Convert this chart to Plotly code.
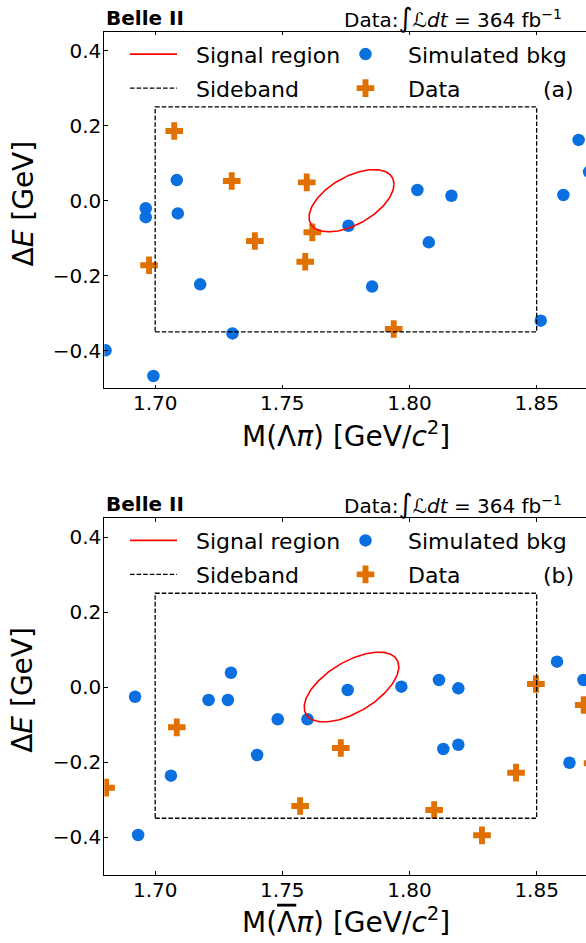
import numpy as np
import plotly.graph_objects as go

W, H = 586, 943
FONT = "DejaVu Sans"
BLUE = "#0a6fdf"
ORANGE = "#e07000"

# ---------------- data ----------------
# Panel (a): M(Lambda pi)
bkg_a_x = [1.6963, 1.6963, 1.7085, 1.7089, 1.7177, 1.7304, 1.6805, 1.6993, 1.7760,
           1.8031, 1.8165, 1.8076, 1.7853, 1.8516, 1.8605, 1.8665, 1.8706]
bkg_a_y = [-0.020, -0.044, 0.055, -0.034, -0.223, -0.354, -0.399, -0.4675, -0.0667,
           0.0285, 0.0133, -0.111, -0.229, -0.320, 0.0152, 0.162, 0.077]
data_a_x = [1.7075, 1.7301, 1.7596, 1.7392, 1.6976, 1.7618, 1.7590, 1.7938]
data_a_y = [0.186, 0.0525, 0.049, -0.1075, -0.172, -0.0843, -0.1627, -0.342]

# Panel (b): M(anti-Lambda pi)
bkg_b_x = [1.6921, 1.7210, 1.7286, 1.7298, 1.7482, 1.7401, 1.7062, 1.6933, 1.7599,
           1.7757, 1.7968, 1.8116, 1.8192, 1.8133, 1.8192, 1.8629, 1.8580, 1.8684]
bkg_b_y = [-0.026, -0.0347, -0.0347, 0.038, -0.086, -0.1813, -0.2365, -0.3947, -0.086,
           -0.008, 0.0008, 0.0187, -0.0035, -0.1653, -0.1539, -0.2019, 0.0675, 0.0187]
data_b_x = [1.6807, 1.7085, 1.7570, 1.7730, 1.8097, 1.8285, 1.8419, 1.8497, 1.8685, 1.8720]
data_b_y = [-0.2685, -0.1075, -0.3173, -0.1627, -0.328, -0.3955, -0.2285, 0.008, -0.048, -0.2035]

# Sideband box (same in both panels)
sideband_x = [1.70, 1.85]
sideband_y = [-0.35, 0.25]

# Signal region ellipses: centre x, centre y, half-width x, half-height y, correlation
signal_a = dict(cx=1.7772, cy=0.0, sx=0.0167, sy=0.083, rho=0.53)
signal_b = dict(cx=1.7772, cy=0.0, sx=0.0186, sy=0.093, rho=0.58)

x_ticks = [1.70, 1.75, 1.80, 1.85]
y_ticks = [-0.4, -0.2, 0.0, 0.2, 0.4]
x_range = [1.68, 1.8694]
y_range = [-0.5, 0.45]


def ellipse(p, n=200):
    t = np.linspace(0, 2 * np.pi, n)
    x = p["cx"] + p["sx"] * np.cos(t)
    y = p["cy"] + p["sy"] * (p["rho"] * np.cos(t) + np.sqrt(1 - p["rho"] ** 2) * np.sin(t))
    return x, y


def box(xs, ys):
    return ([xs[0], xs[1], xs[1], xs[0], xs[0]], [ys[0], ys[0], ys[1], ys[1], ys[0]])


def fx(p):
    return p / W


def fy(p):
    return 1 - p / H


fig = go.Figure()

panels = [
    dict(xa="x", ya="y", bx=bkg_a_x, by=bkg_a_y, dx=data_a_x, dy=data_a_y, sig=signal_a,
         legs=["legend", "legend2", "legend3", "legend4"]),
    dict(xa="x2", ya="y2", bx=bkg_b_x, by=bkg_b_y, dx=data_b_x, dy=data_b_y, sig=signal_b,
         legs=["legend5", "legend6", "legend7", "legend8"]),
]

PAD = "\u00a0\u00a0"
for p in panels:
    fig.add_trace(go.Scatter(x=p["bx"], y=p["by"], mode="markers", xaxis=p["xa"], yaxis=p["ya"],
                             marker=dict(symbol="circle", size=12.5, color=BLUE, line=dict(width=0)),
                             name=PAD + "Simulated bkg", legend=p["legs"][2], showlegend=True))
    fig.add_trace(go.Scatter(x=p["dx"], y=p["dy"], mode="markers", xaxis=p["xa"], yaxis=p["ya"],
                             marker=dict(symbol="cross", size=14.7, color=ORANGE, line=dict(width=0)),
                             name=PAD + "Data", legend=p["legs"][3], showlegend=True))
    bx, by = box(sideband_x, sideband_y)
    fig.add_trace(go.Scatter(x=bx, y=by, mode="lines", xaxis=p["xa"], yaxis=p["ya"],
                             line=dict(color="black", width=1.3, dash="4.6px,2px"),
                             name=PAD + "Sideband", legend=p["legs"][1], showlegend=True))
    ex, ey = ellipse(p["sig"])
    fig.add_trace(go.Scatter(x=ex, y=ey, mode="lines", xaxis=p["xa"], yaxis=p["ya"],
                             line=dict(color="red", width=1.6),
                             name=PAD + "Signal region", legend=p["legs"][0], showlegend=True))

axis_common = dict(showgrid=False, zeroline=False, ticks="inside", ticklen=3.5, tickwidth=0.8,
                   tickcolor="black", tickfont=dict(family=FONT, size=20, color="black"))

# pixel geometry
left_px = 104.3
dom_x = [fx(left_px), 1.0]
dom_ya = [fy(388.2), fy(31.95)]
dom_yb = [fy(874.5), fy(518.25)]

layout = dict(
    width=W, height=H, margin=dict(l=0, r=0, t=0, b=0),
    paper_bgcolor="white", plot_bgcolor="white",
    font=dict(family=FONT, color="black"),
    xaxis=dict(domain=dom_x, range=x_range, anchor="y", tickvals=x_ticks, tickformat=".2f",
               showline=True, linecolor="black", linewidth=1, mirror="ticks",
               ticklabelstandoff=-3, **axis_common),
    yaxis=dict(domain=dom_ya, range=y_range, anchor="x", tickvals=y_ticks, tickformat=".1f",
               showline=True, linecolor="black", linewidth=1, ticklabelstandoff=-2, **axis_common),
    xaxis2=dict(domain=dom_x, range=x_range, anchor="y2", tickvals=x_ticks, tickformat=".2f",
                showline=True, linecolor="black", linewidth=1, mirror="ticks",
                ticklabelstandoff=-3, **axis_common),
    yaxis2=dict(domain=dom_yb, range=y_range, anchor="x2", tickvals=y_ticks, tickformat=".1f",
                showline=True, linecolor="black", linewidth=1, ticklabelstandoff=-2, **axis_common),
    yaxis3=dict(overlaying="y", side="right", anchor="x", range=y_range, tickvals=y_ticks,
                showticklabels=False, showline=False, **axis_common),
    yaxis4=dict(overlaying="y2", side="right", anchor="x2", range=y_range, tickvals=y_ticks,
                showticklabels=False, showline=False, **axis_common),
)

# legends: one per entry, positioned like matplotlib's 2-column legend
rows = [(54.3, 88.3), (540.6, 574.6)]
col_left = [125.0, 337.0]
leg_names = [["legend", "legend2", "legend3", "legend4"], ["legend5", "legend6", "legend7", "legend8"]]
for pi in range(2):
    for k, lname in enumerate(leg_names[pi]):
        col = 0 if k < 2 else 1
        row = k % 2
        layout[lname] = dict(x=fx(col_left[col]), y=fy(rows[pi][row]), xanchor="left", yanchor="middle",
                             xref="paper", yref="paper", bgcolor="rgba(0,0,0,0)", borderwidth=0,
                             itemwidth=47, font=dict(family=FONT, size=22, color="black"))
layout["showlegend"] = True

fig.update_layout(**layout)

# annotations: headers, panel labels, axis titles
INT = '<span style="font-size:27px">∫</span>'
ann = []
for pi, (top, lab, xtitle) in enumerate([
        (0, "(a)", "M(Λ<i>π</i>) [GeV/<i>c</i><sup>2</sup>]"),
        (486.3, "(b)", 'M(<span style="text-decoration:overline">Λ</span><i>π</i>) [GeV/<i>c</i><sup>2</sup>]')]):
    ann.append(dict(text="<b>Belle II</b>", x=fx(104), y=fy(18 + top), xanchor="left", yanchor="middle",
                    font=dict(family=FONT, size=20, color="black")))
    ann.append(dict(text="Data:" + INT + "ℒ<i>dt</i> = 364 fb<sup>−1</sup>", x=fx(564), y=fy(17 + top),
                    xanchor="right", yanchor="middle", font=dict(family=FONT, size=20, color="black")))
    ann.append(dict(text=lab, x=fx(576), y=fy(89 + top), xanchor="right", yanchor="middle",
                    font=dict(family=FONT, size=22, color="black")))
    ann.append(dict(text="Δ<i>E</i> [GeV]", x=fx(23), y=fy(203.5 + top), xanchor="center", yanchor="middle",
                    textangle=-90, font=dict(family=FONT, size=28, color="black")))
    ann.append(dict(text=xtitle, x=fx(346), y=fy(434 + top), xanchor="center", yanchor="middle",
                    font=dict(family=FONT, size=28, color="black")))
for a in ann:
    a.update(xref="paper", yref="paper", showarrow=False)
fig.update_layout(annotations=ann)

fig.write_html("out.html", config={"displayModeBar": False},
               post_script="document.body.style.margin='0px';document.body.style.overflow='hidden';")
